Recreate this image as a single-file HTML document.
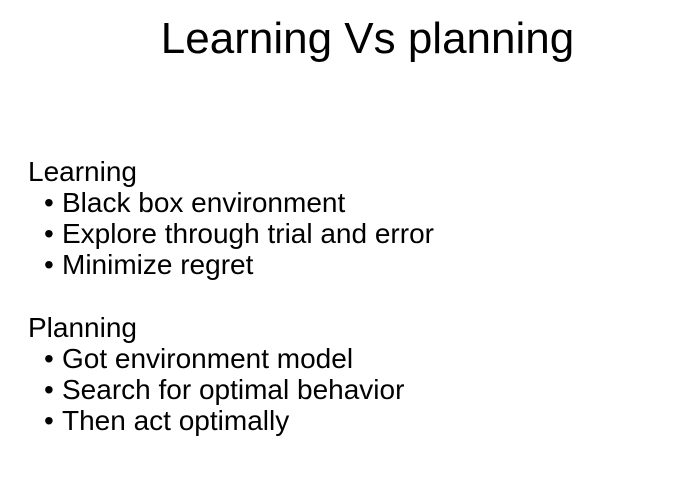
<!DOCTYPE html>
<html><head><style>
html,body{margin:0;padding:0;background:#fff;width:687px;height:484px;overflow:hidden;font-family:"Liberation Sans",sans-serif;color:#000}
.t{position:absolute;left:0;width:735px;text-align:center;top:14px;font-size:44px;line-height:50px}
.l{position:absolute;font-size:28px;line-height:30px;white-space:nowrap}
.b{position:absolute;left:44px;font-size:28px;line-height:30px}
</style></head><body>
<div class="t">Learning Vs planning</div>
<div class="l" style="left:28px;top:157px">Learning</div>
<div class="b" style="top:188px">•</div><div class="l" style="left:62px;top:188px">Black box environment</div>
<div class="b" style="top:219px">•</div><div class="l" style="left:62px;top:219px">Explore through trial and error</div>
<div class="b" style="top:250px">•</div><div class="l" style="left:62px;top:250px">Minimize regret</div>
<div class="l" style="left:28px;top:313px">Planning</div>
<div class="b" style="top:344px">•</div><div class="l" style="left:62px;top:344px">Got environment model</div>
<div class="b" style="top:375px">•</div><div class="l" style="left:62px;top:375px">Search for optimal behavior</div>
<div class="b" style="top:406px">•</div><div class="l" style="left:62px;top:406px">Then act optimally</div>
</body></html>
